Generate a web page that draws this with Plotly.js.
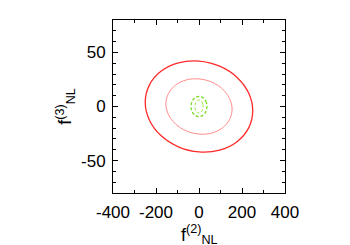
<!DOCTYPE html>
<html><head><meta charset="utf-8">
<script src="https://cdn.plot.ly/plotly-3.0.1.min.js"></script>
<style>html,body{margin:0;padding:0;background:#fff}#chart{width:350px;height:245px}</style>
</head><body><div id="chart"></div>
<script>
// Contour points (f2_NL, f3_NL)
const outerRedX = [250, 231, 177, 96, 0, -96, -177, -231, -250, -231, -177, -96, 0, 96, 177, 231, 250];
const outerRedY = [-4, 12.4, 26.9, 37.3, 42, 40.3, 32.5, 19.8, 4, -12.4, -26.9, -37.3, -42, -40.3, -32.5, -19.8, -4];
const innerRedX = [154, 142, 109, 59, 0, -59, -109, -142, -154, -142, -109, -59, 0, 59, 109, 142, 154];
const innerRedY = [-2.5, 7.5, 16.2, 22.6, 25.5, 24.6, 19.8, 12.1, 2.5, -7.5, -16.2, -22.6, -25.5, -24.6, -19.8, -12.1, -2.5];
const outerGreenX = [37, 34.2, 26.2, 14.2, 0, -14.2, -26.2, -34.2, -37, -34.2, -26.2, -14.2, 0, 14.2, 26.2, 34.2, 37];
const outerGreenY = [0, 3.6, 6.6, 8.6, 9.3, 8.6, 6.6, 3.6, 0, -3.6, -6.6, -8.6, -9.3, -8.6, -6.6, -3.6, 0];
const innerGreenX = [19, 17.6, 13.4, 7.3, 0, -7.3, -13.4, -17.6, -19, -17.6, -13.4, -7.3, 0, 7.3, 13.4, 17.6, 19];
const innerGreenY = [0, 2.3, 4.2, 5.5, 6, 5.5, 4.2, 2.3, 0, -2.3, -4.2, -5.5, -6, -5.5, -4.2, -2.3, 0];
const xTicks = [-400, -200, 0, 200, 400];
const xTickText = ['-400', '-200', '0', '200', '400'];
const yTicks = [-50, 0, 50];
const yTickText = ['-50', '0', '50'];
const xTitle = 'f<sup>(2)</sup><sub>NL</sub>';
const yTitle = 'f<sup>(3)</sup><sub>NL</sub>';

const tickFont = {family: 'Liberation Sans, Arial, sans-serif', size: 17, color: '#000'};
const titleFont = {family: 'Liberation Sans, Arial, sans-serif', size: 18, color: '#000'};
function tr(x, y, color, width, dash) {
  return {x: x, y: y, type: 'scatter', mode: 'lines',
    line: {color: color, width: width, dash: dash, shape: 'spline', smoothing: 1},
    hoverinfo: 'skip', showlegend: false};
}
const data = [
  tr(outerRedX, outerRedY, '#ff2a2a', 1.3, 'solid'),
  tr(innerRedX, innerRedY, '#ff8c8c', 1.0, 'solid'),
  tr(outerGreenX, outerGreenY, '#77dd22', 1.3, '3px,2px'),
  tr(innerGreenX, innerGreenY, '#9ae650', 1.0, '3px,2px')
];
const axisCommon = {
  showline: true, mirror: 'ticks', linecolor: '#000', linewidth: 1,
  ticks: 'inside', ticklen: 5, tickwidth: 1, tickcolor: '#000',
  showgrid: false, zeroline: false, tickfont: tickFont,
  minor: {ticks: 'inside', ticklen: 3, tickwidth: 1, tickcolor: '#000', showgrid: false}
};
const layout = {
  width: 350, height: 245,
  margin: {l: 113, r: 65, t: 20, b: 52},
  paper_bgcolor: '#fff', plot_bgcolor: '#fff',
  xaxis: Object.assign({}, axisCommon, {
    range: [-400, 400], tickmode: 'array', tickvals: xTicks, ticktext: xTickText,
    ticklabelstandoff: 4,
    minor: Object.assign({}, axisCommon.minor, {dtick: 100, tick0: 0})
  }),
  yaxis: Object.assign({}, axisCommon, {
    range: [-80, 80], tickmode: 'array', tickvals: yTicks, ticktext: yTickText,
    ticklabelstandoff: 3,
    minor: Object.assign({}, axisCommon.minor, {dtick: 10, tick0: 0}),
    title: {text: yTitle, font: titleFont, standoff: 4}
  }),
  annotations: [{
    text: xTitle, font: titleFont, showarrow: false,
    xref: 'paper', yref: 'paper', x: 0.5, y: 0, xanchor: 'center', yanchor: 'top', yshift: -27
  }]
};
Plotly.newPlot('chart', data, layout, {staticPlot: true, displayModeBar: false});
</script></body></html>
